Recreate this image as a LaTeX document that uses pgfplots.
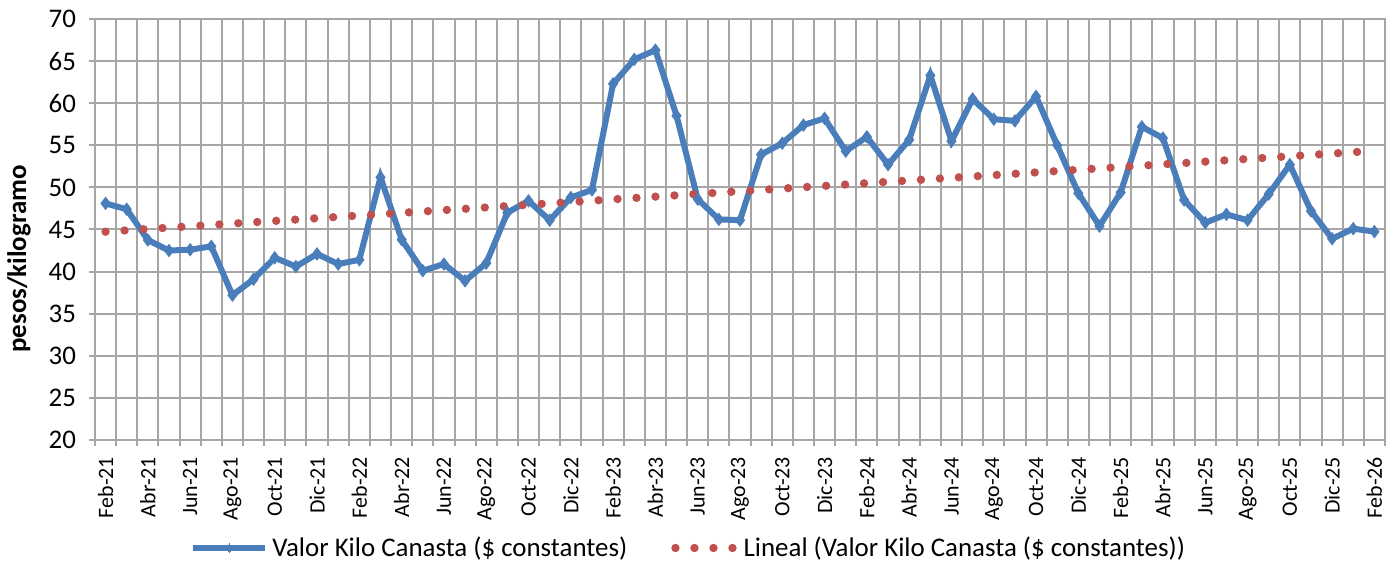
\documentclass[border=0pt]{standalone}
\usepackage{fontspec}
\setmainfont{Carlito}
\usepackage{pgfplots}
\pgfplotsset{compat=1.18}
\definecolor{cblue}{HTML}{4A7EBB}
\definecolor{cred}{HTML}{C0504D}
\definecolor{cgrid}{HTML}{A6A6A6}
\begin{document}
\begin{tikzpicture}
\begin{axis}[
 scale only axis, width=645bp, height=210.5bp,
 xmin=-0.5, xmax=60.5, ymin=20, ymax=70,
 ytick={20,25,...,70},
 xtick={0,2,...,60},
 xticklabels={Feb-21,Abr-21,Jun-21,Ago-21,Oct-21,Dic-21,Feb-22,Abr-22,Jun-22,Ago-22,Oct-22,Dic-22,Feb-23,Abr-23,Jun-23,Ago-23,Oct-23,Dic-23,Feb-24,Abr-24,Jun-24,Ago-24,Oct-24,Dic-24,Feb-25,Abr-25,Jun-25,Ago-25,Oct-25,Dic-25,Feb-26},
 minor xtick={-0.5,0.5,...,60.5},
 xminorgrids=true, ymajorgrids=true,
 grid style={cgrid, line width=1bp},
 minor grid style={cgrid, line width=1bp},
 axis line style={cgrid, line width=1bp},
 tick pos=left, tick align=outside,
 major tick length=3bp, minor tick length=3bp,
 tick style={cgrid, line width=1bp},
 x tick style={draw=none},
 minor x tick style={draw=cgrid, line width=1bp},
 /pgf/number format/assume math mode=true,
 yticklabel style={font=\fontsize{13.5}{15}\selectfont, xshift=-3bp},
 xticklabel style={rotate=90, anchor=east, font=\fontsize{11}{12}\selectfont, yshift=0bp, xshift=-2bp},
 ylabel={\textbf{pesos/kilogramo}},
 every axis y label/.style={at={(rel axis cs:0,0.43)}, xshift=-38bp, rotate=90, anchor=center, font=\fontsize{13.5}{15}\selectfont},
 legend columns=2,
 legend style={draw=none, at={(0.461,-0.2565)}, anchor=center, font=\fontsize{13.5}{15}\selectfont,
   /tikz/every even column/.append style={column sep=20bp}},
 clip=false,
]
\addplot[cblue, line width=3bp, mark=diamond*, mark size=3bp, mark options={solid, fill=cblue, line width=0.5bp},
  legend image code/.code={\draw[cblue, line width=3bp] (0bp,0bp) -- (36bp,0bp); \fill[cblue, line width=0pt] (18bp,0bp) +(0,2.2bp) -- +(1.2bp,0) -- +(0,-2.2bp) -- +(-1.2bp,0) -- cycle;}]
 coordinates {
 (0,48.1) (1,47.4) (2,43.75) (3,42.5) (4,42.6) (5,43.0) (6,37.2) (7,39.1) (8,41.65) (9,40.6) (10,42.1)
 (11,40.9) (12,41.4) (13,51.2) (14,43.8) (15,40.1) (16,40.9) (17,38.9) (18,41.0) (19,47.0) (20,48.4) (21,46.1) (22,48.8)
 (23,49.7) (24,62.3) (25,65.2) (26,66.3) (27,58.5) (28,48.6) (29,46.2) (30,46.1) (31,53.9) (32,55.25) (33,57.4) (34,58.2)
 (35,54.3) (36,56.0) (37,52.7) (38,55.65) (39,63.3) (40,55.5) (41,60.5) (42,58.1) (43,57.9) (44,60.8) (45,55.0) (46,49.3)
 (47,45.4) (48,49.4) (49,57.2) (50,55.85) (51,48.5) (52,45.8) (53,46.8) (54,46.1) (55,49.2) (56,52.7) (57,47.2) (58,43.9)
 (59,45.1) (60,44.75)
 };
\addlegendentry{Valor Kilo Canasta (\$ constantes)}
\addplot[cred, line width=4.2bp, line cap=round, dash pattern=on 0pt off 9.5bp,
  legend image code/.code={\draw[cred, line width=4.2bp, line cap=round, dash pattern=on 0pt off 9.5bp] (2bp,0bp) -- (32bp,0bp);}]
 coordinates {
 (0,44.74) (1,44.90) (2,45.06) (3,45.22) (4,45.38) (5,45.54) (6,45.70) (7,45.86) (8,46.02) (9,46.18) (10,46.34)
 (11,46.50) (12,46.66) (13,46.82) (14,46.98) (15,47.14) (16,47.30) (17,47.46) (18,47.62) (19,47.78) (20,47.94)
 (21,48.10) (22,48.26) (23,48.42) (24,48.58) (25,48.74) (26,48.90) (27,49.06) (28,49.22) (29,49.38) (30,49.54)
 (31,49.70) (32,49.86) (33,50.02) (34,50.18) (35,50.34) (36,50.50) (37,50.66) (38,50.82) (39,50.98) (40,51.14)
 (41,51.30) (42,51.46) (43,51.62) (44,51.78) (45,51.94) (46,52.10) (47,52.26) (48,52.42) (49,52.58) (50,52.74)
 (51,52.90) (52,53.06) (53,53.22) (54,53.38) (55,53.54) (56,53.70) (57,53.86) (58,54.02) (59,54.18) (60,54.34)
 };
\addlegendentry{Lineal (Valor Kilo Canasta (\$ constantes))}
\end{axis}
\path[use as bounding box] ([xshift=-47.5bp, yshift=-61.5bp]current axis.south west) rectangle ([xshift=6bp, yshift=9.5bp]current axis.north east);
\end{tikzpicture}
\end{document}
